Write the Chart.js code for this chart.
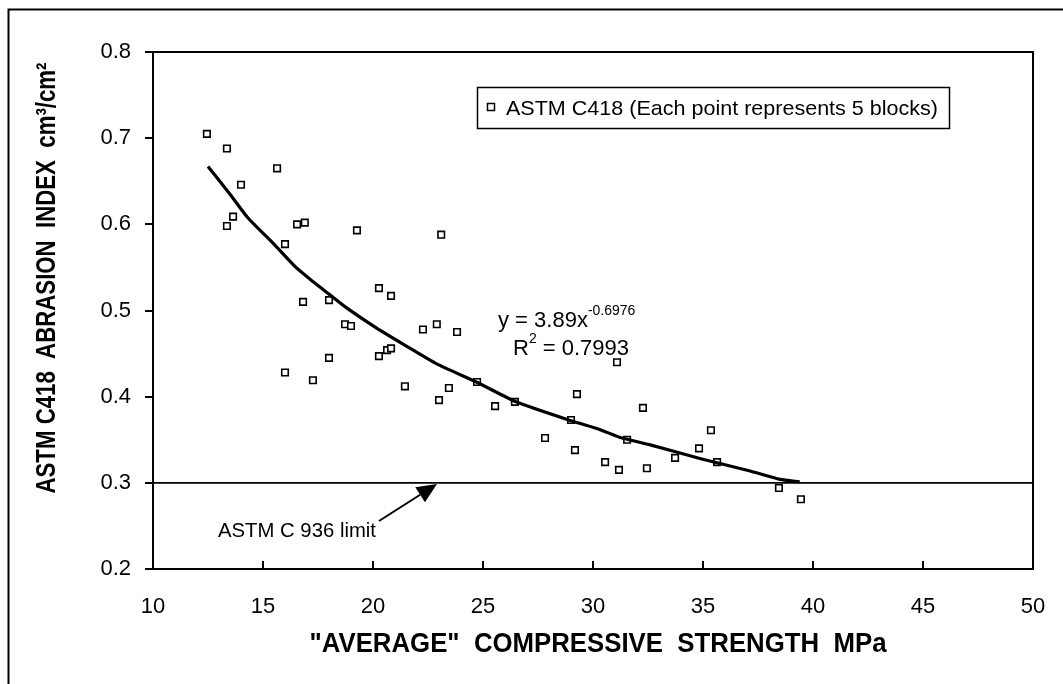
<!DOCTYPE html>
<html>
<head>
<meta charset="utf-8">
<script src="https://cdn.jsdelivr.net/npm/chart.js@4.4.1/dist/chart.umd.min.js"></script>
<style>
    html, body { margin: 0; padding: 0; background: #fff; }
    #wrap { width: 1063px; height: 684px; position: relative; }
</style>
</head>
<body>
<div id="wrap"><canvas id="abrasionChart"></canvas></div>
<script>
// measured blocks (each point = 5 blocks)
var strengthMPa = [12.45, 13.36, 15.64, 14.0, 13.64, 13.36, 16.55, 16.9, 19.27, 16.0,
    20.27, 20.82, 16.82, 18.0, 18.73, 19.0, 22.27, 22.9, 23.1, 18.0,
    16.0, 17.27, 20.27, 20.64, 20.82, 21.45, 23.0, 23.82, 23.45, 24.73,
    25.55, 26.45, 31.09, 29.27, 32.27, 29.0, 27.82, 29.18, 31.55, 30.55,
    31.18, 32.45, 33.73, 34.82, 35.36, 35.64, 38.45, 39.45];
var abrasionIndex = [0.705, 0.688, 0.665, 0.646, 0.609, 0.598, 0.600, 0.602, 0.593, 0.577,
    0.526, 0.517, 0.510, 0.512, 0.484, 0.482, 0.478, 0.484, 0.588, 0.445,
    0.428, 0.419, 0.447, 0.454, 0.456, 0.412, 0.396, 0.475, 0.410, 0.417,
    0.389, 0.394, 0.440, 0.403, 0.387, 0.373, 0.352, 0.338, 0.350, 0.324,
    0.315, 0.317, 0.329, 0.340, 0.361, 0.324, 0.294, 0.281];

// power trend line
var trendStrength = [12.5, 13.5, 14.3, 15.5, 16.5, 17.3, 18.0, 18.8, 20.2, 21.5, 22.9,
    24.7, 26.5, 29.0, 30.3, 31.2, 32.6, 34.9, 37.1, 38.5, 39.4];
var trendIndex = [0.667, 0.635, 0.608, 0.577, 0.550, 0.533, 0.519, 0.503, 0.479, 0.459, 0.438,
    0.417, 0.394, 0.372, 0.362, 0.353, 0.344, 0.328, 0.314, 0.304, 0.301];

// ASTM C 936 limit
var limitStrength = [10, 50];
var limitIndex = [0.3, 0.3];

var xTickValues = [10, 15, 20, 25, 30, 35, 40, 45, 50];
var yTickValues = [0.2, 0.3, 0.4, 0.5, 0.6, 0.7, 0.8];

var legendLabel = 'ASTM C418 (Each point represents 5 blocks)';
var xTitle = '"AVERAGE"  COMPRESSIVE  STRENGTH  MPa';
var yTitle = 'ASTM C418  ABRASION  INDEX  cm\u00B3/cm\u00B2';
var limitNote = 'ASTM C 936 limit';
var eqMain = 'y = 3.89x';
var eqPower = '-0.6976';
var r2Value = ' = 0.7993';

var FONT = '"Liberation Sans", Arial, sans-serif';

function toPoints(xs, ys) {
    var out = [];
    for (var i = 0; i < xs.length; i++) out.push({ x: xs[i], y: ys[i] });
    return out;
}

function fitText(ctx, text, x, y, width, font, align) {
    ctx.save();
    ctx.font = font;
    var w = ctx.measureText(text).width;
    ctx.translate(x, y);
    ctx.scale(width / w, 1);
    ctx.textAlign = align;
    ctx.textBaseline = 'alphabetic';
    ctx.fillText(text, 0, 0);
    ctx.restore();
}

var extras = {
    id: 'extras',
    beforeDraw: function (chart) {
        var ctx = chart.ctx;
        ctx.save();
        ctx.fillStyle = '#fff';
        ctx.fillRect(0, 0, chart.width, chart.height);
        // outer frame (only top and left show)
        ctx.strokeStyle = '#000';
        ctx.lineWidth = 2;
        ctx.beginPath();
        ctx.moveTo(8.5, chart.height);
        ctx.lineTo(8.5, 9.5);
        ctx.lineTo(chart.width, 9.5);
        ctx.stroke();
        ctx.restore();
    },
    afterDraw: function (chart) {
        var ctx = chart.ctx;
        var area = chart.chartArea;
        var xs = chart.scales.x;
        ctx.save();
        ctx.strokeStyle = '#000';
        ctx.fillStyle = '#000';

        // top and right of plot box
        ctx.lineWidth = 2;
        ctx.beginPath();
        ctx.moveTo(area.left, area.top);
        ctx.lineTo(area.right, area.top);
        ctx.lineTo(area.right, area.bottom);
        ctx.stroke();

        // x ticks point inward
        xTickValues.forEach(function (v) {
            var px = Math.round(xs.getPixelForValue(v));
            ctx.beginPath();
            ctx.moveTo(px, area.bottom);
            ctx.lineTo(px, area.bottom - 8);
            ctx.stroke();
        });

        // legend box
        ctx.lineWidth = 1.5;
        ctx.strokeRect(477.5, 87.5, 472, 41);
        ctx.fillStyle = '#fff';
        ctx.fillRect(487.5, 103.5, 7, 7);
        ctx.strokeRect(487.5, 103.5, 7, 7);
        ctx.fillStyle = '#000';
        fitText(ctx, legendLabel, 506, 115, 432, '21px ' + FONT, 'left');

        // trend equation
        ctx.textAlign = 'left';
        ctx.textBaseline = 'alphabetic';
        ctx.font = '22px ' + FONT;
        ctx.fillText(eqMain, 498, 327);
        var w1 = ctx.measureText(eqMain).width;
        ctx.font = '14px ' + FONT;
        ctx.fillText(eqPower, 498 + w1, 315);
        ctx.font = '22px ' + FONT;
        ctx.fillText('R', 513, 355);
        var wr = ctx.measureText('R').width;
        ctx.font = '14px ' + FONT;
        ctx.fillText('2', 513 + wr, 343);
        var w2 = ctx.measureText('2').width;
        ctx.font = '22px ' + FONT;
        ctx.fillText(r2Value, 513 + wr + w2, 355);

        // limit note and arrow
        fitText(ctx, limitNote, 218, 537, 158, '21px ' + FONT, 'left');
        var tail = { x: 379, y: 521 }, tip = { x: 437, y: 484 };
        var ang = Math.atan2(tip.y - tail.y, tip.x - tail.x);
        var headLen = 20, headHalf = 9;
        var bx = tip.x - headLen * Math.cos(ang), by = tip.y - headLen * Math.sin(ang);
        ctx.lineWidth = 2;
        ctx.beginPath();
        ctx.moveTo(tail.x, tail.y);
        ctx.lineTo(bx, by);
        ctx.stroke();
        ctx.beginPath();
        ctx.moveTo(tip.x, tip.y);
        ctx.lineTo(bx + headHalf * Math.sin(ang), by - headHalf * Math.cos(ang));
        ctx.lineTo(bx - headHalf * Math.sin(ang), by + headHalf * Math.cos(ang));
        ctx.closePath();
        ctx.fill();

        // axis titles
        fitText(ctx, xTitle, 598, 652, 577, 'bold 27px ' + FONT, 'center');
        ctx.save();
        ctx.translate(55, 278);
        ctx.rotate(-Math.PI / 2);
        fitText(ctx, yTitle, 0, 0, 431, 'bold 27px ' + FONT, 'center');
        ctx.restore();

        ctx.restore();
    }
};

var ctx = document.getElementById('abrasionChart').getContext('2d');
var abrasionChart = new Chart(ctx, {
    type: 'scatter',
    data: {
        datasets: [{
            label: 'ASTM C418 trend',
            data: toPoints(trendStrength, trendIndex),
            showLine: true,
            borderColor: '#000',
            borderWidth: 3.2,
            pointRadius: 0,
            tension: 0.2,
            order: 0
        }, {
            label: legendLabel,
            data: toPoints(strengthMPa, abrasionIndex),
            pointStyle: 'rect',
            pointRadius: 4.6,
            pointBorderWidth: 1.6,
            pointBorderColor: '#000',
            pointBackgroundColor: '#fff',
            showLine: false,
            order: 1
        }, {
            label: 'ASTM C 936 limit',
            data: toPoints(limitStrength, limitIndex),
            showLine: true,
            borderColor: '#000',
            borderWidth: 1.6,
            pointRadius: 0,
            order: 2
        }]
    },
    options: {
        responsive: true,
        maintainAspectRatio: false,
        animation: false,
        devicePixelRatio: 1,
        layout: { padding: { left: 0, right: 30, top: 52, bottom: 45 } },
        plugins: {
            legend: { display: false },
            tooltip: { enabled: false }
        },
        scales: {
            x: {
                type: 'linear',
                min: 10,
                max: 50,
                // invisible outer ticks only push the labels down
                grid: {
                    display: true,
                    drawOnChartArea: false,
                    drawTicks: true,
                    tickLength: 22,
                    color: 'rgba(0,0,0,0)'
                },
                border: { display: true, color: '#000', width: 2 },
                ticks: {
                    color: '#000',
                    font: { family: FONT, size: 22 },
                    padding: 3,
                    maxRotation: 0,
                    autoSkip: false
                },
                afterBuildTicks: function (scale) {
                    scale.ticks = xTickValues.map(function (v) { return { value: v }; });
                },
                afterFit: function (scale) { scale.height = 70; }
            },
            y: {
                type: 'linear',
                min: 0.2,
                max: 0.8,
                grid: {
                    display: true,
                    drawOnChartArea: false,
                    drawTicks: true,
                    tickLength: 8,
                    color: '#000',
                    lineWidth: 2
                },
                border: { display: true, color: '#000', width: 2 },
                ticks: {
                    color: '#000',
                    font: { family: FONT, size: 22 },
                    padding: 14,
                    callback: function (v) { return v.toFixed(1); }
                },
                afterBuildTicks: function (scale) {
                    scale.ticks = yTickValues.map(function (v) { return { value: v }; });
                },
                afterFit: function (scale) { scale.width = 153; }
            }
        }
    },
    plugins: [extras]
});
</script>
</body>
</html>
